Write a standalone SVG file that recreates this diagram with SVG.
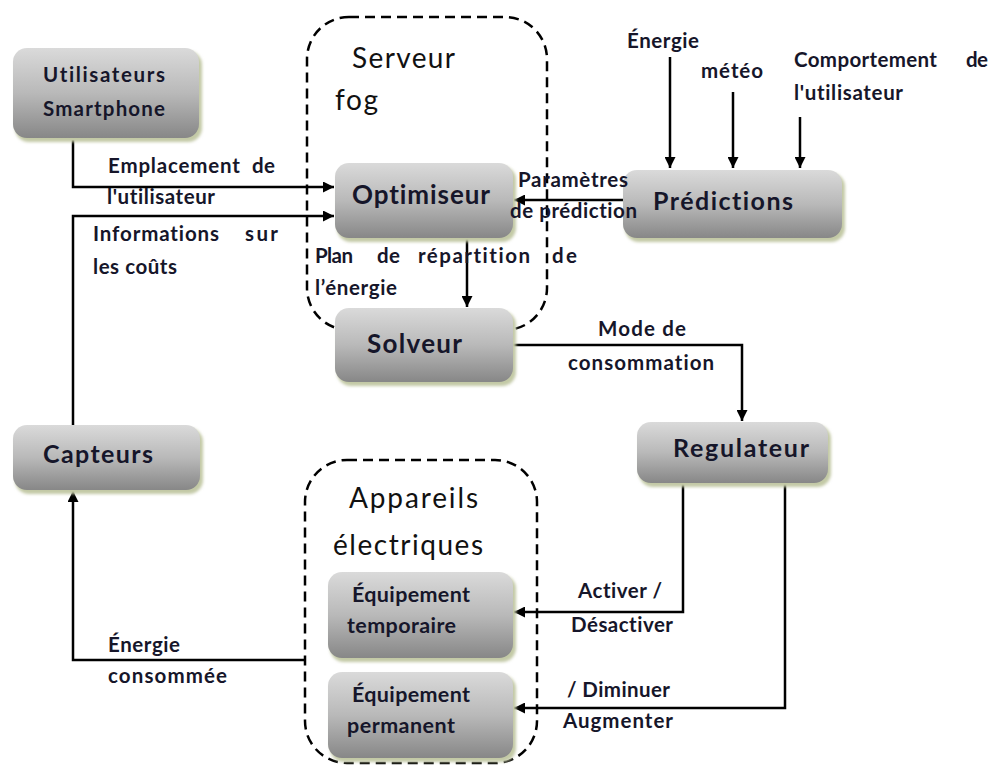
<svg xmlns="http://www.w3.org/2000/svg" width="994" height="767" viewBox="0 0 994 767">
  <defs>
    <linearGradient id="boxFill" x1="0" y1="0" x2="0" y2="1">
      <stop offset="0" stop-color="#dadada"/>
      <stop offset="0.5" stop-color="#b9b9b9"/>
      <stop offset="1" stop-color="#878787"/>
    </linearGradient>
    <filter id="soft" x="-10%" y="-10%" width="120%" height="130%">
      <feGaussianBlur stdDeviation="1.6"/>
    </filter>
    <marker id="arrow" viewBox="0 0 10 10" refX="10" refY="5" markerWidth="11" markerHeight="11" markerUnits="userSpaceOnUse" orient="auto">
      <path d="M0,0 L10,5 L0,10 z" fill="#000"/>
    </marker>
    <style>
      text { font-variant-ligatures: none; }
      .shadow { fill: #c3c9a6; filter: url(#soft); }
      .box { fill: url(#boxFill); }
      .node { font-family: Lato, "Liberation Sans", sans-serif; font-weight: bold; fill: #16162a; }
      .lbl { font-family: Lato, "Liberation Sans", sans-serif; font-weight: bold; font-size: 20.5px; fill: #16162a; }
      .title { font-family: Lato, "Liberation Sans", sans-serif; font-size: 28px; fill: #111; }
      .dash { fill: none; stroke: #000; stroke-width: 2.5; stroke-dasharray: 10 6; }
      .wire { fill: none; stroke: #000; stroke-width: 2.5; }
    </style>
  </defs>

  <rect width="994" height="767" fill="#fff"/>

  <!-- dashed containers -->
  <g id="serveur-fog">
    <rect class="dash" x="307" y="17" width="240" height="313" rx="42"/>
    <text class="title" x="352" y="68" textLength="103">Serveur</text>
    <text class="title" x="335" y="110" textLength="43">fog</text>
  </g>
  <g id="appareils-electriques">
    <rect class="dash" x="305" y="460" width="232" height="303" rx="42"/>
    <text class="title" x="349" y="508" font-size="29" textLength="129">Appareils</text>
    <text class="title" x="333" y="555" font-size="29" textLength="150">électriques</text>
  </g>

  <!-- connectors -->
  <g id="connectors">
    <polyline class="wire" points="73,140 73,187 334,187" marker-end="url(#arrow)"/>
    <polyline class="wire" points="73,425 73,216 334,216" marker-end="url(#arrow)"/>
    <line class="wire" x1="633" y1="200" x2="514" y2="200" marker-end="url(#arrow)"/>
    <line class="wire" x1="670" y1="57" x2="670" y2="168" marker-end="url(#arrow)"/>
    <line class="wire" x1="733" y1="92" x2="733" y2="168" marker-end="url(#arrow)"/>
    <line class="wire" x1="800" y1="117" x2="800" y2="168" marker-end="url(#arrow)"/>
    <line class="wire" x1="467" y1="238" x2="467" y2="307" marker-end="url(#arrow)"/>
    <polyline class="wire" points="513,345 742,345 742,421" marker-end="url(#arrow)"/>
    <polyline class="wire" points="683,483 683,612 514,612" marker-end="url(#arrow)"/>
    <polyline class="wire" points="785,483 785,708 514,708" marker-end="url(#arrow)"/>
    <polyline class="wire" points="305,660 73,660 73,491" marker-end="url(#arrow)"/>
  </g>

  <!-- nodes -->
  <g id="utilisateurs-smartphone">
    <rect class="shadow" x="15" y="51" width="187" height="91" rx="14"/>
    <rect class="box" x="13" y="48" width="186" height="90" rx="14"/>
    <text class="node" x="43" y="82" font-size="20.5" textLength="122">Utilisateurs</text>
    <text class="node" x="43" y="116" font-size="20.5" textLength="122">Smartphone</text>
  </g>
  <g id="optimiseur">
    <rect class="shadow" x="337" y="166" width="179" height="76" rx="14"/>
    <rect class="box" x="335" y="163" width="178" height="75" rx="14"/>
    <text class="node" x="352" y="204" font-size="26" textLength="138">Optimiseur</text>
  </g>
  <g id="predictions">
    <rect class="shadow" x="625" y="173" width="220" height="69" rx="14"/>
    <rect class="box" x="623" y="170" width="219" height="68" rx="14"/>
    <text class="node" x="653" y="210" font-size="25" textLength="140">Prédictions</text>
  </g>
  <g id="solveur">
    <rect class="shadow" x="337" y="311" width="179" height="75" rx="14"/>
    <rect class="box" x="335" y="308" width="178" height="74" rx="14"/>
    <text class="node" x="367" y="353" font-size="26" textLength="95">Solveur</text>
  </g>
  <g id="regulateur">
    <rect class="shadow" x="639" y="425" width="192" height="62" rx="14"/>
    <rect class="box" x="637" y="422" width="191" height="61" rx="14"/>
    <text class="node" x="673" y="457" font-size="25" textLength="136">Regulateur</text>
  </g>
  <g id="capteurs">
    <rect class="shadow" x="15" y="428" width="188" height="66" rx="14"/>
    <rect class="box" x="13" y="425" width="187" height="65" rx="14"/>
    <text class="node" x="43" y="463" font-size="25" textLength="110">Capteurs</text>
  </g>
  <g id="equipement-temporaire">
    <rect class="shadow" x="330" y="575" width="186" height="87" rx="14"/>
    <rect class="box" x="328" y="572" width="185" height="86" rx="14"/>
    <text class="node" x="352" y="602" font-size="21.5" textLength="118">Équipement</text>
    <text class="node" x="347" y="633" font-size="21.5" textLength="109">temporaire</text>
  </g>
  <g id="equipement-permanent">
    <rect class="shadow" x="330" y="675" width="186" height="87" rx="14"/>
    <rect class="box" x="328" y="672" width="185" height="86" rx="14"/>
    <text class="node" x="352" y="702" font-size="21.5" textLength="118">Équipement</text>
    <text class="node" x="347" y="733" font-size="21.5" textLength="108">permanent</text>
  </g>

  <!-- connector labels, drawn above the boxes they overlap -->
  <g id="labels">
    <text class="lbl"><tspan x="108" y="173" textLength="132">Emplacement</tspan><tspan x="252" y="173" textLength="23">de</tspan></text>
    <text class="lbl" x="107" y="204" textLength="108">l'utilisateur</text>
    <text class="lbl"><tspan x="93" y="241" textLength="126">Informations</tspan><tspan x="245" y="241" textLength="33">sur</tspan></text>
    <text class="lbl" x="93" y="274" textLength="84">les coûts</text>

    <text class="lbl" x="518" y="187" textLength="110">Paramètres</text>
    <text class="lbl" x="510" y="218" textLength="127">de prédiction</text>

    <text class="lbl" x="627" y="48" textLength="72">Énergie</text>
    <text class="lbl" x="701" y="78" textLength="62">météo</text>
    <text class="lbl"><tspan x="794" y="67" textLength="143">Comportement</tspan><tspan x="966" y="67" textLength="22">de</tspan></text>
    <text class="lbl" x="794" y="100" textLength="109">l'utilisateur</text>

    <text class="lbl"><tspan x="315" y="263" textLength="38">Plan</tspan><tspan x="377" y="263" textLength="23">de</tspan><tspan x="418" y="263" textLength="112">répartition</tspan><tspan x="552" y="263" textLength="25">de</tspan></text>
    <text class="lbl" x="315" y="295" textLength="82">l’énergie</text>

    <text class="lbl" x="598" y="336" textLength="88">Mode de</text>
    <text class="lbl" x="568" y="370" textLength="146">consommation</text>

    <text class="lbl" x="578" y="598" textLength="84">Activer /</text>
    <text class="lbl" x="571" y="632" textLength="102">Désactiver</text>
    <text class="lbl" x="567" y="697" textLength="103">/ Diminuer</text>
    <text class="lbl" x="563" y="728" textLength="110">Augmenter</text>

    <text class="lbl" x="108" y="652" textLength="72">Énergie</text>
    <text class="lbl" x="108" y="683" textLength="119">consommée</text>
  </g>
</svg>
